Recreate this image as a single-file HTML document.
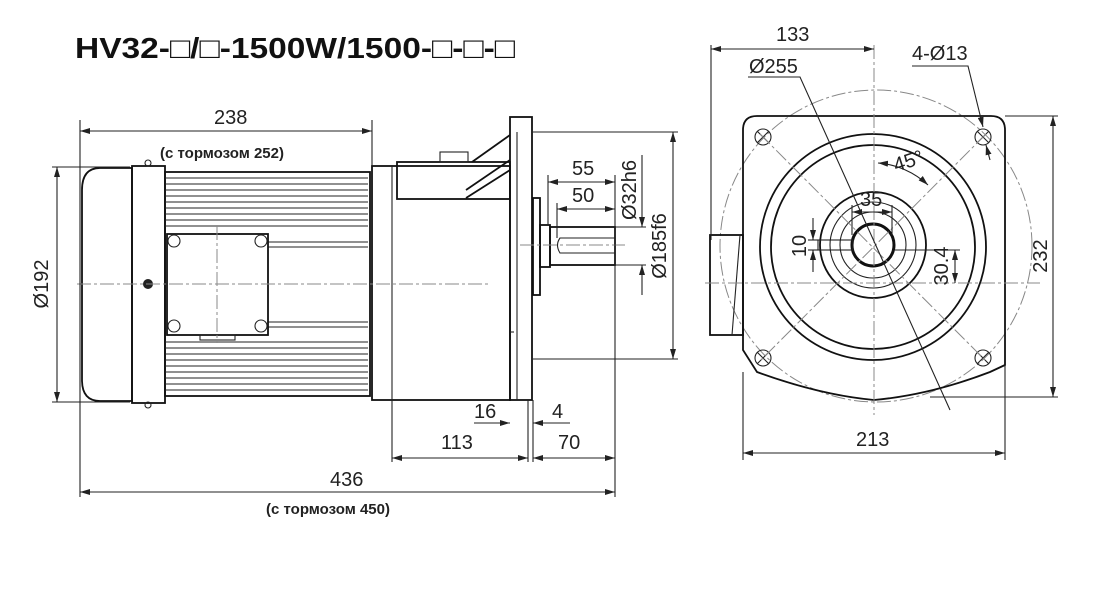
<!DOCTYPE html>
<html><head><meta charset="utf-8"><style>
body{margin:0;background:#fff}
svg{display:block}
text{font-family:"Liberation Sans",sans-serif;fill:#222}
.d{stroke:#222;stroke-width:1.1;fill:none}
.t{stroke:#111;stroke-width:1.8;fill:none}
.c{stroke:#888;stroke-width:1;fill:none;stroke-dasharray:14 3 3 3}
.n{font-size:20px}
</style></head><body>
<svg width="1100" height="597" viewBox="0 0 1100 597">
<defs>
<marker id="a" viewBox="0 0 10 6" refX="10" refY="3" markerWidth="10" markerHeight="6" orient="auto-start-reverse" markerUnits="userSpaceOnUse"><path d="M0,0L10,3L0,6z" fill="#222"/></marker>
</defs>
<text x="75" y="58" font-size="29" font-weight="bold" textLength="440" lengthAdjust="spacingAndGlyphs" style="fill:#111">HV32-□/□-1500W/1500-□-□-□</text>

<!-- LEFT VIEW -->
<path class="t" d="M132,168 L100,168 Q82,168 82,190 L82,380 Q82,401 100,401 L132,401 Z"/>
<rect class="t" x="132" y="166" width="33" height="237"/>
<circle cx="148" cy="163" r="3" class="d"/><circle cx="148" cy="405" r="3" class="d"/>
<circle cx="148" cy="284" r="5" fill="#222"/>
<rect class="t" x="165" y="172" width="205" height="224"/>
<g stroke="#222" stroke-width="1.1">
<line x1="165" x2="368" y1="178" y2="178"/><line x1="165" x2="368" y1="184" y2="184"/><line x1="165" x2="368" y1="190" y2="190"/><line x1="165" x2="368" y1="196" y2="196"/><line x1="165" x2="368" y1="202" y2="202"/><line x1="165" x2="368" y1="208" y2="208"/><line x1="165" x2="368" y1="214" y2="214"/><line x1="165" x2="368" y1="220" y2="220"/><line x1="165" x2="368" y1="226" y2="226"/>
<line x1="268" x2="368" y1="242" y2="242"/><line x1="268" x2="368" y1="247" y2="247"/>
<line x1="268" x2="368" y1="322" y2="322"/><line x1="268" x2="368" y1="327" y2="327"/>
<line x1="165" x2="368" y1="342" y2="342"/><line x1="165" x2="368" y1="348" y2="348"/><line x1="165" x2="368" y1="354" y2="354"/><line x1="165" x2="368" y1="360" y2="360"/><line x1="165" x2="368" y1="366" y2="366"/><line x1="165" x2="368" y1="372" y2="372"/><line x1="165" x2="368" y1="378" y2="378"/><line x1="165" x2="368" y1="384" y2="384"/><line x1="165" x2="368" y1="390" y2="390"/>
</g>
<rect x="167" y="234" width="101" height="101" fill="#fff" class="t"/>
<rect x="200" y="335" width="35" height="5" class="d"/>
<g class="d"><circle cx="174" cy="241" r="6"/><circle cx="261" cy="241" r="6"/><circle cx="174" cy="326" r="6"/><circle cx="261" cy="326" r="6"/></g>
<line class="c" x1="217" y1="226" x2="217" y2="343"/>
<!-- gearbox -->
<rect class="t" x="372" y="166" width="138" height="234"/>
<line class="d" x1="392" y1="166" x2="392" y2="400"/>
<rect class="t" x="397" y="162" width="113" height="37"/>
<rect class="d" x="440" y="152" width="28" height="10"/>
<path class="t" d="M472,162 L510,135 M466,198 L510,170 M466,190 L510,160"/>
<rect class="t" x="510" y="117" width="22" height="283"/>
<line class="d" x1="517" y1="132" x2="517" y2="400"/>
<line class="d" x1="510" y1="332" x2="514" y2="332"/>
<rect class="t" x="533" y="198" width="7" height="97"/>
<rect class="t" x="540" y="225" width="10" height="42"/>
<rect class="t" x="550" y="227" width="65" height="38"/>
<path class="d" d="M615,238 L560,238 Q555,245 560,253 L615,253"/>
<line class="c" x1="77" y1="284" x2="490" y2="284"/>
<line class="c" x1="520" y1="245" x2="625" y2="245"/>
<!-- dims left -->
<g class="d">
<line x1="80" y1="120" x2="80" y2="497"/><line x1="372" y1="120" x2="372" y2="166"/>
<line x1="80" y1="131" x2="372" y2="131" marker-start="url(#a)" marker-end="url(#a)"/>
<line x1="52" y1="167" x2="130" y2="167"/><line x1="52" y1="402" x2="130" y2="402"/>
<line x1="57" y1="167" x2="57" y2="402" marker-start="url(#a)" marker-end="url(#a)"/>
<line x1="533" y1="132" x2="678" y2="132"/><line x1="533" y1="359" x2="678" y2="359"/>
<line x1="673" y1="132" x2="673" y2="359" marker-start="url(#a)" marker-end="url(#a)"/>
<line x1="642" y1="155" x2="642" y2="227" marker-end="url(#a)"/><line x1="642" y1="295" x2="642" y2="265" marker-end="url(#a)"/>
<line x1="615" y1="227" x2="646" y2="227"/><line x1="615" y1="265" x2="646" y2="265"/>
<line x1="548" y1="175" x2="548" y2="225"/><line x1="557" y1="203" x2="557" y2="238"/>
<line x1="615" y1="175" x2="615" y2="497"/>
<line x1="548" y1="182" x2="615" y2="182" marker-start="url(#a)" marker-end="url(#a)"/>
<line x1="557" y1="209" x2="615" y2="209" marker-start="url(#a)" marker-end="url(#a)"/>
<line x1="392" y1="400" x2="392" y2="462"/><line x1="528" y1="400" x2="528" y2="462"/><line x1="533" y1="400" x2="533" y2="462"/>
<line x1="474" y1="423" x2="510" y2="423" marker-end="url(#a)"/><line x1="570" y1="423" x2="533" y2="423" marker-end="url(#a)"/>
<line x1="392" y1="458" x2="528" y2="458" marker-start="url(#a)" marker-end="url(#a)"/>
<line x1="533" y1="458" x2="615" y2="458" marker-start="url(#a)" marker-end="url(#a)"/>
<line x1="80" y1="492" x2="615" y2="492" marker-start="url(#a)" marker-end="url(#a)"/>
</g>
<text class="n" x="214" y="124">238</text>
<text x="160" y="158" font-size="15" font-weight="bold">(с тормозом 252)</text>
<text class="n" transform="translate(48,284) rotate(-90)" text-anchor="middle">Ø192</text>
<text class="n" x="572" y="175">55</text><text class="n" x="572" y="202">50</text>
<text class="n" transform="translate(636,190) rotate(-90)" text-anchor="middle">Ø32h6</text>
<text class="n" transform="translate(666,246) rotate(-90)" text-anchor="middle">Ø185f6</text>
<text class="n" x="474" y="418">16</text><text class="n" x="552" y="418">4</text>
<text class="n" x="441" y="449">113</text><text class="n" x="558" y="449">70</text>
<text class="n" x="330" y="486">436</text>
<text x="266" y="514" font-size="15" font-weight="bold">(с тормозом 450)</text>

<!-- RIGHT VIEW -->
<circle cx="876" cy="246" r="156" class="c"/>
<path class="t" d="M743,130 Q743,116 757,116 L991,116 Q1005,116 1005,130 L1005,365 L990,372 Q930,395 874,400 Q820,395 757,372 L743,350 Z"/>
<rect class="t" x="710" y="235" width="33" height="100"/>
<line class="d" x1="740" y1="235" x2="732" y2="335"/>
<g class="d">
<circle cx="763" cy="137" r="8"/><circle cx="983" cy="137" r="8"/><circle cx="763" cy="358" r="8"/><circle cx="983" cy="358" r="8"/>
<path d="M757,131l12,12M769,131l-12,12M977,131l12,12M989,131l-12,12M757,352l12,12M769,352l-12,12M977,352l12,12M989,352l-12,12"/>
</g>
<circle cx="873" cy="247" r="113" class="t"/>
<circle cx="873" cy="247" r="102" class="t"/>
<circle cx="873" cy="245" r="53" class="t"/>
<circle cx="873" cy="245" r="43" class="d" stroke-width="1.4"/>
<circle cx="873" cy="245" r="33" class="d" stroke-width="1.4"/>
<circle cx="873" cy="245" r="21" stroke="#111" stroke-width="3" fill="none"/>
<rect class="d" x="818" y="240" width="35" height="10"/>
<line class="c" x1="705" y1="283" x2="1040" y2="283"/>
<line class="c" x1="874" y1="45" x2="874" y2="415"/>
<line class="c" x1="760" y1="134" x2="986" y2="361"/>
<line class="c" x1="986" y1="134" x2="760" y2="361"/>
<g class="d">
<path d="M748,77 L800,77 L950,410"/>
<path d="M912,66 L968,66 L983,127" marker-end="url(#a)"/>
<path d="M990,160 L986,145" marker-end="url(#a)"/>
<path d="M878,163 A82,82 0 0,1 928,185" marker-start="url(#a)" marker-end="url(#a)"/>
<line x1="711" y1="45" x2="711" y2="240"/>
<line x1="711" y1="49" x2="874" y2="49" marker-start="url(#a)" marker-end="url(#a)"/>
<line x1="1005" y1="116" x2="1058" y2="116"/><line x1="930" y1="397" x2="1058" y2="397"/>
<line x1="1053" y1="116" x2="1053" y2="397" marker-start="url(#a)" marker-end="url(#a)"/>
<line x1="743" y1="372" x2="743" y2="460"/><line x1="1005" y1="365" x2="1005" y2="460"/>
<line x1="743" y1="453" x2="1005" y2="453" marker-start="url(#a)" marker-end="url(#a)"/>
<line x1="852" y1="212" x2="892" y2="212" marker-start="url(#a)" marker-end="url(#a)"/>
<line x1="852" y1="205" x2="852" y2="235"/><line x1="892" y1="205" x2="892" y2="235"/>
<line x1="813" y1="218" x2="813" y2="240" marker-end="url(#a)"/><line x1="813" y1="272" x2="813" y2="250" marker-end="url(#a)"/>
<line x1="808" y1="240" x2="818" y2="240"/><line x1="808" y1="250" x2="818" y2="250"/>
<line x1="955" y1="250" x2="955" y2="283" marker-start="url(#a)" marker-end="url(#a)"/>
<line x1="895" y1="250" x2="960" y2="250"/>
</g>
<text class="n" x="776" y="41">133</text>
<text class="n" x="749" y="73">Ø255</text>
<text class="n" x="912" y="60">4-Ø13</text>
<text class="n" transform="translate(896,172) rotate(-18)">45°</text>
<text class="n" x="860" y="206">35</text>
<text class="n" transform="translate(806,246) rotate(-90)" text-anchor="middle">10</text>
<text class="n" transform="translate(948,266) rotate(-90)" text-anchor="middle">30.4</text>
<text class="n" transform="translate(1047,256) rotate(-90)" text-anchor="middle">232</text>
<text class="n" x="856" y="446">213</text>
</svg>
</body></html>
